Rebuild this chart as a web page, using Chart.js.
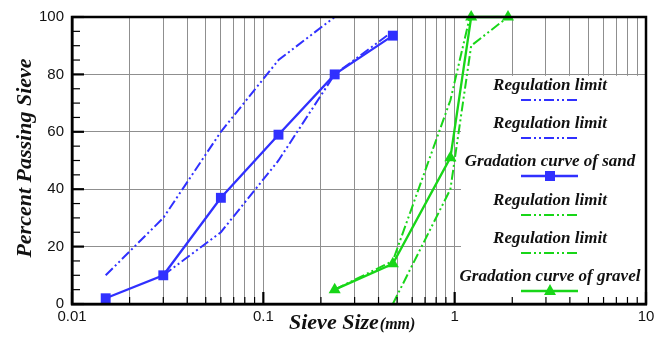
<!DOCTYPE html>
<html><head><meta charset="utf-8">
<script src="https://cdn.jsdelivr.net/npm/chart.js@4/dist/chart.umd.min.js"></script>
<style>html,body{margin:0;padding:0;background:#fff}#wrap{width:664px;height:346px}</style>
</head><body><div id="wrap"><canvas id="c" width="664" height="346"></canvas></div>
<script>
// ---- data (sieve size in mm, percent passing) ----
const sandSizes      = [0.015, 0.03, 0.06, 0.12, 0.236, 0.475];
const sandCurve      = [2, 10, 37, 59, 80, 93.5];
const sandUpperSizes = [0.015, 0.03, 0.06, 0.12, 0.236, 0.475];
const sandUpper      = [10, 30, 60, 85, 100, 100];
const sandLowerSizes = [0.03, 0.06, 0.12, 0.236, 0.475];
const sandLower      = [10, 25, 50, 80, 95];
const gravelSizes      = [0.236, 0.475, 0.95, 1.22, 1.9];
const gravelCurve      = [5, 14, 51, 100, 100];
const gravelUpperSizes = [0.236, 0.475, 0.95, 1.2];
const gravelUpper      = [5, 15, 71, 100];
const gravelLowerSizes = [0.475, 0.95, 1.22, 1.9];
const gravelLower      = [0, 40, 90, 100];
const xTickValues = [0.01,0.02,0.03,0.04,0.05,0.06,0.07,0.08,0.09,0.1,0.2,0.3,0.4,0.5,0.6,0.7,0.8,0.9,1,2,3,4,5,6,7,8,9,10];
const xTickLabels = {0.01:'0.01', 0.1:'0.1', 1:'1', 10:'10'};
const yMinorTicks = [5,10,15,25,30,35,45,50,55,65,70,75,85,90,95];
const legendLabels = ['Regulation limit','Regulation limit','Gradation curve of sand','Regulation limit','Regulation limit','Gradation curve of gravel'];

const BLUE = 'rgb(48,48,255)';
const GREEN = 'rgb(24,214,24)';
const DASH = [10,3,2,3,2,3];

const pts = (xs, ys) => xs.map((x,i)=>({x:x, y:ys[i]}));

const datasets = [
  {data: pts(sandUpperSizes, sandUpper), borderColor: BLUE, borderDash: DASH, borderWidth: 2, pointRadius: 0},
  {data: pts(sandLowerSizes, sandLower), borderColor: BLUE, borderDash: DASH, borderWidth: 2, pointRadius: 0},
  {data: pts(sandSizes, sandCurve), borderColor: BLUE, backgroundColor: BLUE, borderWidth: 2.3, pointStyle: 'rect', pointRadius: 7, pointBorderWidth: 0},
  {data: pts(gravelUpperSizes, gravelUpper), borderColor: GREEN, borderDash: DASH, borderWidth: 2, pointRadius: 0},
  {data: pts(gravelLowerSizes, gravelLower), borderColor: GREEN, borderDash: DASH, borderWidth: 2, pointRadius: 0},
  {data: pts(gravelSizes, gravelCurve), borderColor: GREEN, backgroundColor: GREEN, borderWidth: 2.3, pointStyle: 'triangle', pointRadius: 7, pointBorderWidth: 0}
];
datasets.forEach((d,i)=>{ d.label = legendLabels[i]; d.fill = false; d.tension = 0; d.clip = false; });

const SERIF = '"Liberation Serif", "Times New Roman", serif';

const frame = {
  id: 'frame',
  beforeDatasetsDraw(chart) {
    const ctx = chart.ctx, a = chart.chartArea, y = chart.scales.y;
    ctx.save();
    ctx.fillStyle = '#fff';
    const lx = 461, ly = y.getPixelForValue(79.5);
    ctx.fillRect(lx, ly, a.right - lx - 1, a.bottom - ly - 1);
    ctx.restore();
  },
  afterDatasetsDraw(chart) {
    const ctx = chart.ctx, a = chart.chartArea, x = chart.scales.x, y = chart.scales.y;
    ctx.save();
    // legend
    const cx = 550;
    const rows = [86,124,162,201,239,277];
    const styles = [
      {c:BLUE, dash:true},{c:BLUE, dash:true},{c:BLUE, m:'rect'},
      {c:GREEN, dash:true},{c:GREEN, dash:true},{c:GREEN, m:'tri'}];
    ctx.textAlign = 'center'; ctx.textBaseline = 'middle';
    ctx.font = 'italic bold 17px ' + SERIF;
    rows.forEach((ry,i)=>{
      ctx.fillStyle = '#111';
      ctx.fillText(legendLabels[i], cx, ry);
      const s = styles[i];
      ctx.strokeStyle = s.c; ctx.lineWidth = s.dash ? 2 : 2.3;
      ctx.setLineDash(s.dash ? DASH : []);
      ctx.beginPath(); ctx.moveTo(cx-29, ry+14); ctx.lineTo(cx+28, ry+14); ctx.stroke();
      ctx.setLineDash([]);
      ctx.fillStyle = s.c;
      if (s.m === 'rect') ctx.fillRect(cx-5, ry+9, 10, 10);
      if (s.m === 'tri') { ctx.beginPath(); ctx.moveTo(cx, ry+7); ctx.lineTo(cx+6, ry+18); ctx.lineTo(cx-6, ry+18); ctx.closePath(); ctx.fill(); }
    });
    // inner ticks
    ctx.strokeStyle = '#000';
    xTickValues.forEach(v=>{
      const px = x.getPixelForValue(v);
      const major = xTickLabels[v] !== undefined;
      ctx.lineWidth = major ? 2.2 : 1.2;
      ctx.beginPath(); ctx.moveTo(px, a.bottom); ctx.lineTo(px, a.bottom - (major ? 12 : 7)); ctx.stroke();
    });
    [0,20,40,60,80,100].forEach(v=>{
      const py = y.getPixelForValue(v);
      ctx.lineWidth = 2.2;
      ctx.beginPath(); ctx.moveTo(a.left, py); ctx.lineTo(a.left+12, py); ctx.stroke();
    });
    yMinorTicks.forEach(v=>{
      const py = y.getPixelForValue(v);
      ctx.lineWidth = 1.2;
      ctx.beginPath(); ctx.moveTo(a.left, py); ctx.lineTo(a.left+8, py); ctx.stroke();
    });
    // frame
    ctx.lineWidth = 2.5;
    ctx.strokeRect(a.left, a.top, a.right - a.left, a.bottom - a.top);
    // axis titles
    ctx.fillStyle = '#111';
    ctx.font = 'italic bold 22px ' + SERIF;
    ctx.textAlign = 'left'; ctx.textBaseline = 'alphabetic';
    const t1 = 'Sieve Size';
    ctx.fillText(t1, 289, 329);
    const w1 = ctx.measureText(t1).width;
    ctx.font = 'italic bold 16px ' + SERIF;
    ctx.fillText('(mm)', 289 + w1 + 1, 329);
    ctx.translate(31, 158);
    ctx.rotate(-Math.PI/2);
    ctx.textAlign = 'center';
    ctx.font = 'italic bold 22px ' + SERIF;
    ctx.fillText('Percent Passing Sieve', 0, 0);
    ctx.restore();
  }
};

new Chart(document.getElementById('c'), {
  type: 'line',
  data: { datasets },
  plugins: [frame],
  options: {
    responsive: false, animation: false, devicePixelRatio: 1,
    layout: { padding: { top: 17, right: 18, left: 0, bottom: 0 } },
    plugins: { legend: { display: false }, tooltip: { enabled: false } },
    scales: {
      x: {
        type: 'logarithmic', min: 0.01, max: 10,
        afterBuildTicks(s) { s.ticks = xTickValues.map(v=>({value: v})); },
        afterFit(s) { s.height = 42; },
        ticks: { autoSkip: false, maxRotation: 0, padding: 4, color: '#111',
          font: { family: '"Liberation Sans", Arial, sans-serif', size: 15 },
          callback: (v) => xTickLabels[v] !== undefined ? xTickLabels[v] : '' },
        grid: { color: '#8f8f8f', lineWidth: 1, drawTicks: false },
        border: { color: '#000', width: 2.5 }
      },
      y: {
        min: 0, max: 100,
        afterFit(s) { s.width = 72; },
        ticks: { stepSize: 20, padding: 8, color: '#111',
          font: { family: '"Liberation Sans", Arial, sans-serif', size: 15 } },
        grid: { color: '#8f8f8f', lineWidth: 1, drawTicks: false },
        border: { color: '#000', width: 2.5 }
      }
    }
  }
});
</script></body></html>
